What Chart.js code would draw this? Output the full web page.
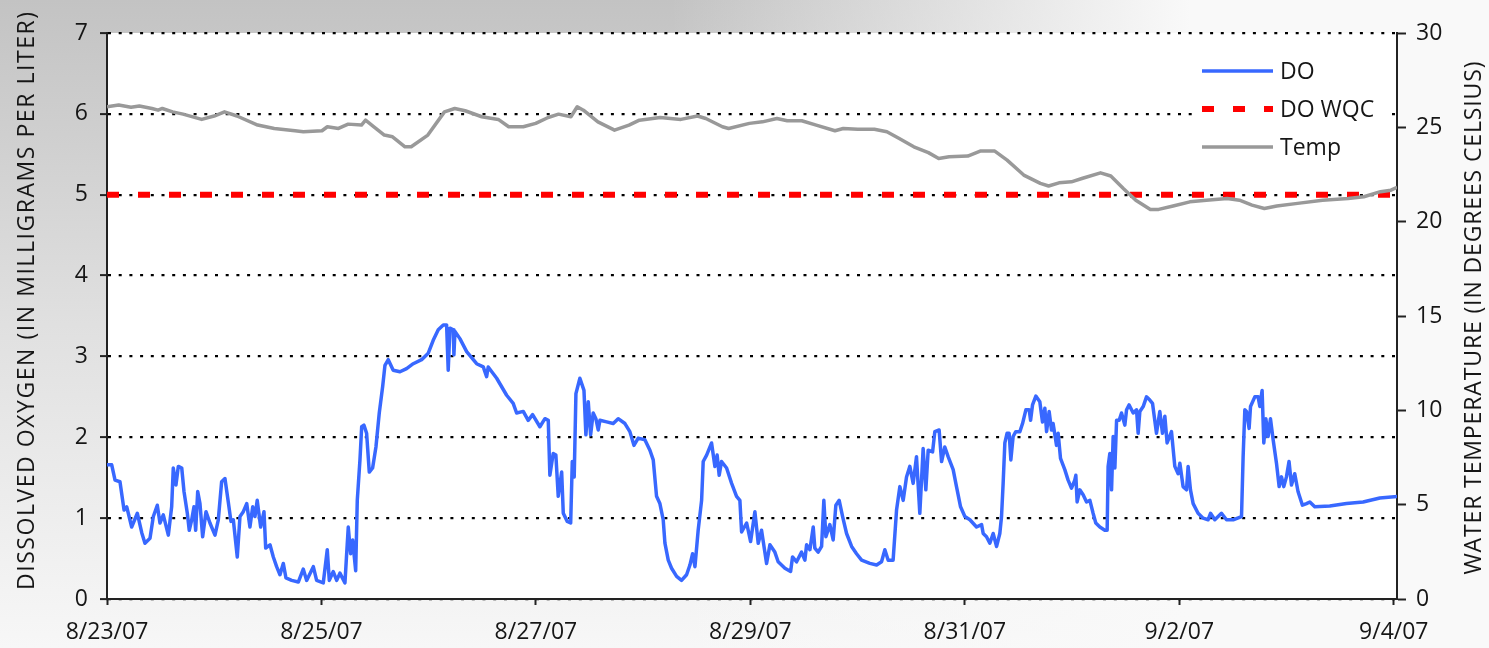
<!DOCTYPE html>
<html>
<head>
<meta charset="utf-8">
<script src="https://cdn.jsdelivr.net/npm/chart.js@4.4.1/dist/chart.umd.min.js"></script>
<style>
  html, body { margin: 0; padding: 0; }
  body {
    width: 1489px; height: 648px; overflow: hidden;
    background:
      linear-gradient(to right, rgba(249,249,249,0) 45%, rgba(249,249,249,1) 80%),
      linear-gradient(to bottom, #c3c3c3 0%, #e0e0e0 50%, #f7f7f7 100%);
  }
  #wrap { position: relative; width: 1489px; height: 648px; }
</style>
</head>
<body>
<div id="wrap"><canvas id="chart"></canvas></div>
<script>
// ==== Datos ====
// tiempo en dias desde 8/23/07 00:00
const dateLabels = ['8/23/07', '8/25/07', '8/27/07', '8/29/07', '8/31/07', '9/2/07', '9/4/07'];
const dateTicks = [0, 2, 4, 6, 8, 10, 12];
const doTicks = [0, 1, 2, 3, 4, 5, 6, 7];
const tempTicks = [0, 5, 10, 15, 20, 25, 30];

const doDay = [
  0, 0.044, 0.075, 0.121, 0.159, 0.184, 0.230, 0.283, 0.324, 0.354, 0.401, 0.432, 0.469, 0.494, 0.525,
  0.572, 0.603, 0.618, 0.643, 0.665, 0.697, 0.718, 0.749, 0.767, 0.790, 0.811, 0.827, 0.846, 0.867, 0.892,
  0.923, 0.960, 1.007, 1.038, 1.069, 1.100, 1.131, 1.156, 1.178, 1.215, 1.240, 1.271, 1.303, 1.333, 1.359,
  1.380, 1.401, 1.433, 1.464, 1.480, 1.520, 1.551, 1.582, 1.613, 1.644, 1.669, 1.722, 1.784, 1.830, 1.862,
  1.924, 1.955, 2.017, 2.054, 2.073, 2.110, 2.142, 2.172, 2.219, 2.235, 2.250, 2.272, 2.291, 2.319, 2.334,
  2.359, 2.375, 2.396, 2.421, 2.446, 2.477, 2.508, 2.539, 2.571, 2.592, 2.623, 2.669, 2.732, 2.794, 2.856,
  2.934, 2.996, 3.042, 3.089, 3.136, 3.167, 3.182, 3.198, 3.229, 3.235, 3.245, 3.291, 3.354, 3.447, 3.509,
  3.540, 3.555, 3.634, 3.727, 3.788, 3.820, 3.882, 3.928, 3.969, 4.037, 4.084, 4.115, 4.130, 4.161, 4.186,
  4.208, 4.240, 4.255, 4.292, 4.324, 4.339, 4.357, 4.373, 4.410, 4.448, 4.466, 4.488, 4.510, 4.534, 4.559,
  4.581, 4.597, 4.659, 4.721, 4.767, 4.830, 4.876, 4.914, 4.954, 5.016, 5.063, 5.094, 5.125, 5.156, 5.187,
  5.203, 5.234, 5.265, 5.312, 5.358, 5.405, 5.436, 5.461, 5.483, 5.513, 5.545, 5.560, 5.592, 5.638, 5.669,
  5.690, 5.709, 5.731, 5.778, 5.825, 5.871, 5.902, 5.918, 5.965, 6.002, 6.042, 6.073, 6.104, 6.151, 6.182,
  6.228, 6.259, 6.322, 6.375, 6.393, 6.431, 6.477, 6.508, 6.524, 6.555, 6.586, 6.601, 6.632, 6.664, 6.685,
  6.704, 6.741, 6.772, 6.797, 6.828, 6.860, 6.897, 6.944, 6.990, 7.037, 7.114, 7.177, 7.223, 7.254, 7.285,
  7.331, 7.363, 7.394, 7.425, 7.456, 7.487, 7.518, 7.549, 7.580, 7.611, 7.636, 7.658, 7.699, 7.720, 7.760,
  7.783, 7.813, 7.844, 7.891, 7.922, 7.960, 8.000, 8.047, 8.109, 8.156, 8.171, 8.202, 8.233, 8.264, 8.296,
  8.326, 8.342, 8.357, 8.373, 8.394, 8.413, 8.429, 8.450, 8.475, 8.513, 8.538, 8.569, 8.600, 8.613, 8.631,
  8.662, 8.699, 8.724, 8.746, 8.762, 8.786, 8.808, 8.823, 8.855, 8.870, 8.892, 8.932, 8.963, 8.995, 9.025,
  9.035, 9.047, 9.072, 9.103, 9.135, 9.166, 9.196, 9.221, 9.259, 9.305, 9.327, 9.336, 9.352, 9.368, 9.383,
  9.399, 9.415, 9.439, 9.461, 9.492, 9.508, 9.532, 9.570, 9.601, 9.616, 9.632, 9.663, 9.694, 9.725, 9.750,
  9.787, 9.818, 9.843, 9.865, 9.886, 9.927, 9.958, 9.989, 10.005, 10.035, 10.067, 10.082, 10.104, 10.129, 10.175,
  10.222, 10.268, 10.291, 10.331, 10.393, 10.440, 10.502, 10.580, 10.595, 10.611, 10.627, 10.651, 10.664, 10.704, 10.735,
  10.751, 10.772, 10.788, 10.807, 10.828, 10.850, 10.875, 10.906, 10.931, 10.953, 10.974, 10.999, 11.023, 11.046, 11.076,
  11.107, 11.148, 11.186, 11.217, 11.263, 11.403, 11.559, 11.714, 11.870, 12.040
];
const doMgL = [
  1.66, 1.66, 1.47, 1.45, 1.10, 1.14, 0.89, 1.06, 0.82, 0.69, 0.75, 1.02, 1.16, 0.94, 1.04,
  0.79, 1.14, 1.62, 1.41, 1.64, 1.62, 1.33, 1.06, 0.85, 0.98, 1.14, 0.85, 1.33, 1.18, 0.77,
  1.08, 0.94, 0.79, 0.98, 1.45, 1.49, 1.20, 0.96, 0.98, 0.52, 1.02, 1.08, 1.18, 0.89, 1.14,
  1.02, 1.22, 0.89, 1.08, 0.63, 0.67, 0.52, 0.40, 0.30, 0.44, 0.26, 0.23, 0.21, 0.37, 0.23,
  0.40, 0.23, 0.20, 0.61, 0.23, 0.34, 0.23, 0.32, 0.20, 0.56, 0.89, 0.56, 0.73, 0.35, 1.22,
  1.72, 2.13, 2.15, 2.05, 1.57, 1.62, 1.88, 2.30, 2.63, 2.89, 2.96, 2.83, 2.81, 2.85, 2.91,
  2.96, 3.04, 3.20, 3.33, 3.39, 3.39, 2.83, 3.35, 3.33, 3.02, 3.31, 3.22, 3.06, 2.91, 2.87,
  2.75, 2.87, 2.73, 2.52, 2.42, 2.30, 2.32, 2.21, 2.28, 2.13, 2.23, 2.21, 1.53, 1.80, 1.78,
  1.27, 1.57, 1.06, 0.96, 0.94, 1.70, 1.51, 2.54, 2.73, 2.58, 2.03, 2.44, 2.03, 2.30, 2.23,
  2.09, 2.21, 2.19, 2.17, 2.23, 2.17, 2.07, 1.90, 1.99, 1.97, 1.84, 1.72, 1.27, 1.18, 0.98,
  0.69, 0.48, 0.38, 0.28, 0.23, 0.30, 0.42, 0.56, 0.40, 0.85, 1.22, 1.70, 1.78, 1.93, 1.64,
  1.78, 1.53, 1.70, 1.62, 1.43, 1.27, 1.22, 0.83, 0.94, 0.71, 1.08, 0.69, 0.85, 0.44, 0.67,
  0.58, 0.46, 0.38, 0.34, 0.52, 0.46, 0.58, 0.48, 0.67, 0.61, 0.89, 0.63, 0.58, 0.65, 1.22,
  0.77, 0.92, 0.73, 1.16, 1.22, 1.02, 0.81, 0.65, 0.56, 0.48, 0.44, 0.42, 0.46, 0.61, 0.48,
  0.48, 1.10, 1.39, 1.22, 1.51, 1.64, 1.43, 1.76, 1.06, 1.86, 1.35, 1.84, 1.82, 2.07, 2.09,
  1.70, 1.88, 1.76, 1.60, 1.39, 1.14, 1.02, 0.98, 0.89, 0.92, 0.81, 0.77, 0.69, 0.81, 0.65,
  0.81, 1.02, 1.43, 1.93, 2.05, 2.05, 1.72, 2.01, 2.07, 2.07, 2.17, 2.34, 2.34, 2.21, 2.40,
  2.51, 2.44, 2.19, 2.36, 2.07, 2.32, 2.09, 2.17, 1.90, 2.05, 1.74, 1.60, 1.47, 1.37, 1.47,
  1.53, 1.20, 1.35, 1.29, 1.20, 1.22, 1.06, 0.94, 0.89, 0.85, 0.85, 1.64, 1.80, 1.35, 2.01,
  1.62, 2.21, 2.21, 2.30, 2.15, 2.34, 2.40, 2.30, 2.34, 2.05, 2.32, 2.38, 2.50, 2.46, 2.42,
  2.05, 2.32, 2.05, 2.26, 1.93, 2.07, 1.64, 1.55, 1.68, 1.39, 1.35, 1.64, 1.35, 1.18, 1.06,
  1.00, 0.98, 1.06, 0.98, 1.06, 0.98, 0.98, 1.02, 1.76, 2.34, 2.32, 2.11, 2.38, 2.50, 2.50,
  2.38, 2.58, 1.93, 2.23, 2.01, 2.23, 1.97, 1.68, 1.39, 1.51, 1.39, 1.51, 1.70, 1.41, 1.55,
  1.33, 1.16, 1.18, 1.20, 1.14, 1.15, 1.18, 1.20, 1.25, 1.27
];

const wqcDay = [0, 12.04];
const wqcMgL = [5, 5];

const tempDay = [
  0, 0.109, 0.224, 0.302, 0.419, 0.476, 0.516, 0.612, 0.709, 0.883, 0.999, 1.096, 1.212, 1.405, 1.560,
  1.753, 1.831, 2.005, 2.055, 2.159, 2.249, 2.373, 2.411, 2.489, 2.586, 2.663, 2.779, 2.837, 2.992, 3.147,
  3.243, 3.340, 3.495, 3.649, 3.746, 3.882, 3.998, 4.114, 4.211, 4.326, 4.385, 4.443, 4.578, 4.733, 4.868,
  4.965, 5.159, 5.352, 5.507, 5.584, 5.739, 5.797, 5.991, 6.112, 6.247, 6.344, 6.479, 6.614, 6.789, 6.866,
  7.001, 7.156, 7.273, 7.388, 7.524, 7.660, 7.756, 7.853, 8.027, 8.143, 8.279, 8.394, 8.549, 8.704, 8.781,
  8.878, 8.994, 9.091, 9.265, 9.361, 9.478, 9.594, 9.730, 9.807, 9.942, 10.098, 10.252, 10.446, 10.561, 10.678,
  10.793, 10.909, 11.103, 11.335, 11.574, 11.721, 11.876, 11.973, 12.031
];
const tempC = [
  26.09, 26.18, 26.06, 26.13, 26.00, 25.91, 26.00, 25.82, 25.70, 25.42, 25.60, 25.82, 25.60, 25.12, 24.94,
  24.82, 24.77, 24.82, 25.03, 24.94, 25.17, 25.12, 25.38, 25.03, 24.59, 24.50, 23.97, 23.97, 24.59, 25.82,
  26.00, 25.88, 25.56, 25.42, 25.03, 25.03, 25.21, 25.52, 25.70, 25.56, 26.09, 25.91, 25.29, 24.85, 25.12,
  25.38, 25.52, 25.42, 25.60, 25.47, 25.03, 24.94, 25.21, 25.29, 25.47, 25.35, 25.35, 25.12, 24.82, 24.94,
  24.90, 24.90, 24.77, 24.41, 23.97, 23.66, 23.35, 23.44, 23.48, 23.74, 23.74, 23.26, 22.47, 22.03, 21.89,
  22.06, 22.11, 22.29, 22.59, 22.42, 21.76, 21.14, 20.65, 20.65, 20.83, 21.05, 21.14, 21.23, 21.14, 20.88,
  20.70, 20.83, 20.97, 21.14, 21.23, 21.32, 21.59, 21.67, 21.82
];

// ==== Helpers ====
const FONT = "'Open Sans', 'DejaVu Sans', sans-serif";
const toXY = (xs, ys) => xs.map((x, i) => ({ x: x, y: ys[i] }));

// fondo blanco del area de trazado
const plotBg = {
  id: 'plotBg',
  beforeDraw(chart) {
    const a = chart.chartArea, ctx = chart.ctx;
    ctx.save();
    ctx.fillStyle = '#ffffff';
    ctx.fillRect(a.left, a.top, a.right - a.left, a.bottom - a.top);
    ctx.restore();
  }
};

// titulos de ejes, los dos leidos de abajo hacia arriba
function drawVertical(ctx, text, cx, cy, len) {
  ctx.save();
  ctx.translate(cx, cy);
  ctx.rotate(-Math.PI / 2);
  ctx.font = '23px ' + FONT;
  ctx.fillStyle = '#161616';
  ctx.textAlign = 'left';
  ctx.textBaseline = 'middle';
  ctx.letterSpacing = '0px';
  const w = ctx.measureText(text).width;
  const sp = (len - w) / (text.length - 1);
  ctx.letterSpacing = sp + 'px';
  ctx.fillText(text, -len / 2, 0);
  ctx.restore();
}
const axisTitles = {
  id: 'axisTitles',
  afterDraw(chart) {
    const ctx = chart.ctx;
    drawVertical(ctx, 'DISSOLVED OXYGEN (IN MILLIGRAMS PER LITER)', 27, 301, 578);
    drawVertical(ctx, 'WATER TEMPERATURE (IN DEGREES CELSIUS)', 1474, 318, 513);
  }
};

// leyenda dentro del area, arriba a la derecha
const legendBox = {
  id: 'legendBox',
  afterDraw(chart) {
    const ctx = chart.ctx;
    const items = chart.data.datasets;
    ctx.save();
    ctx.fillStyle = '#ffffff';
    ctx.fillRect(1194, 52, 196, 116);
    items.forEach((ds, i) => {
      const y = 71 + i * 38;
      ctx.beginPath();
      ctx.strokeStyle = ds.borderColor;
      ctx.lineWidth = ds.borderWidth;
      ctx.setLineDash(ds.borderDash || []);
      ctx.moveTo(1202, y);
      ctx.lineTo(1273, y);
      ctx.stroke();
      ctx.setLineDash([]);
      ctx.font = '23px ' + FONT;
      ctx.fillStyle = '#161616';
      ctx.textBaseline = 'middle';
      ctx.fillText(ds.label, 1280, y + 1);
    });
    ctx.restore();
  }
};

// ==== Grafico ====
const canvas = document.getElementById('chart');
new Chart(canvas, {
  type: 'line',
  data: {
    datasets: [
      {
        label: 'DO',
        data: toXY(doDay, doMgL),
        yAxisID: 'y',
        borderColor: '#3868ff',
        borderWidth: 3.5,
        pointRadius: 0,
        borderJoinStyle: 'round',
        order: 2
      },
      {
        label: 'DO WQC',
        data: toXY(wqcDay, wqcMgL),
        yAxisID: 'y',
        borderColor: '#ff0000',
        borderWidth: 6,
        borderDash: [12, 19],
        pointRadius: 0,
        order: 1
      },
      {
        label: 'Temp',
        data: toXY(tempDay, tempC),
        yAxisID: 'y1',
        borderColor: '#999999',
        borderWidth: 3.5,
        pointRadius: 0,
        borderJoinStyle: 'round',
        order: 0
      }
    ]
  },
  options: {
    responsive: true,
    maintainAspectRatio: false,
    animation: false,
    layout: { padding: { top: 33, left: 0, right: 0, bottom: 0 } },
    plugins: {
      legend: { display: false },
      tooltip: { enabled: false }
    },
    scales: {
      x: {
        type: 'linear',
        position: 'bottom',
        min: 0,
        max: 12.03,
        afterBuildTicks: s => { s.ticks = dateTicks.map(v => ({ value: v })); },
        afterFit: s => { s.height = 49; },
        ticks: {
          autoSkip: false,
          maxRotation: 0,
          padding: 14,
          color: '#161616',
          font: { family: FONT, size: 23 },
          callback: v => dateLabels[dateTicks.indexOf(v)]
        },
        grid: { drawOnChartArea: false, tickLength: 6, tickColor: '#222', tickWidth: 2 },
        border: { color: '#222', width: 2 }
      },
      y: {
        position: 'left',
        min: 0,
        max: 7,
        afterBuildTicks: s => { s.ticks = doTicks.map(v => ({ value: v })); },
        afterFit: s => { s.width = 107; },
        ticks: {
          padding: 12,
          color: '#161616',
          font: { family: FONT, size: 23 }
        },
        grid: { color: '#000000', lineWidth: 2.2, tickLength: 7, tickColor: '#222', tickWidth: 2 },
        border: { color: '#222', width: 2, dash: [3, 7.7] }
      },
      y1: {
        position: 'right',
        min: 0,
        max: 30,
        afterBuildTicks: s => { s.ticks = tempTicks.map(v => ({ value: v })); },
        afterFit: s => { s.width = 92; },
        ticks: {
          padding: 10,
          color: '#161616',
          font: { family: FONT, size: 23 }
        },
        grid: { drawOnChartArea: false, tickLength: 9, tickColor: '#222', tickWidth: 2 },
        border: { color: '#222', width: 2 }
      }
    }
  },
  plugins: [plotBg, axisTitles, legendBox]
});
</script>
</body>
</html>
